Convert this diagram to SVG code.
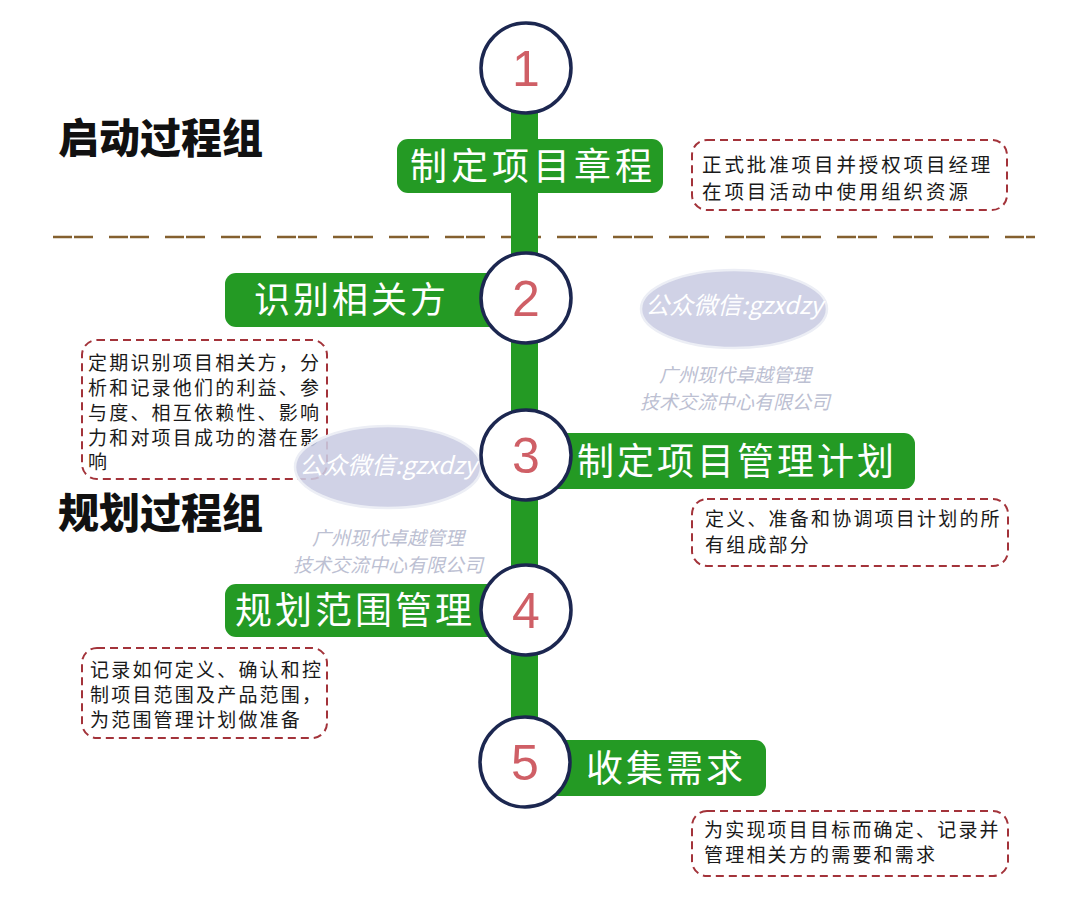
<svg xmlns="http://www.w3.org/2000/svg" width="1080" height="906" viewBox="0 0 1080 906">
<style>
.lbl{fill:#249a24}
.lt{fill:#ffffff;font-family:"Noto Sans CJK SC",sans-serif;font-size:36px}
.num{fill:#cf5f66;font-family:"Liberation Sans",Arial,sans-serif;font-size:50px;text-anchor:middle}
.circ{fill:#ffffff;stroke:#1c2750;stroke-width:3.5}
.box{fill:#ffffff;stroke:#a3333a;stroke-width:2;stroke-dasharray:8 5}
.bt{fill:#1a1a1a;font-family:"Noto Sans CJK SC",sans-serif;font-size:19px;letter-spacing:2.2px}
.head{fill:#111111;font-family:"Noto Sans CJK SC",sans-serif;font-size:41px;font-weight:900}
.wmE{fill:#c9cce2;fill-opacity:0.88;stroke:#eceef5;stroke-width:2.5}
.wmT{fill:#ffffff;font-family:"Noto Sans CJK SC","Liberation Sans",sans-serif;font-size:24px;font-style:italic;text-anchor:middle}
.wmS{fill:#bcc0d2;font-family:"Noto Sans CJK SC",sans-serif;font-size:19px;font-style:italic;text-anchor:middle}
</style>
<rect width="1080" height="906" fill="#ffffff"/>

<g id="headings">
<text class="head" x="58" y="153">启动过程组</text>
<text class="head" x="58" y="528">规划过程组</text>
</g>

<g id="separator">
<line x1="53" y1="237" x2="1035" y2="237" stroke="#84602f" stroke-width="2.5" stroke-dasharray="19 2 19 16"/>
</g>

<g id="desc1">
<rect class="box" x="692" y="140" width="315" height="70" rx="15"/>
<text class="bt" x="702" y="172" style="font-size:19.5px;letter-spacing:2.9px">正式批准项目并授权项目经理</text>
<text class="bt" x="702" y="199" style="font-size:19.5px;letter-spacing:2.9px">在项目活动中使用组织资源</text>
</g>

<g id="desc2">
<rect class="box" x="82" y="340" width="245" height="139" rx="15"/>
<text class="bt" x="88" y="370">定期识别项目相关方，分</text>
<text class="bt" x="88" y="395">析和记录他们的利益、参</text>
<text class="bt" x="88" y="420">与度、相互依赖性、影响</text>
<text class="bt" x="88" y="445">力和对项目成功的潜在影</text>
<text class="bt" x="88" y="469">响</text>
</g>

<g id="desc3">
<rect class="box" x="692" y="499" width="316" height="67" rx="15"/>
<text class="bt" x="705" y="526">定义、准备和协调项目计划的所</text>
<text class="bt" x="705" y="552">有组成部分</text>
</g>

<g id="desc4">
<rect class="box" x="82" y="648" width="245" height="90" rx="15"/>
<text class="bt" x="90" y="677">记录如何定义、确认和控</text>
<text class="bt" x="90" y="702">制项目范围及产品范围，</text>
<text class="bt" x="90" y="727">为范围管理计划做准备</text>
</g>

<g id="desc5">
<rect class="box" x="692" y="811" width="316" height="65" rx="15"/>
<text class="bt" x="704" y="837">为实现项目目标而确定、记录并</text>
<text class="bt" x="704" y="862">管理相关方的需要和需求</text>
</g>

<g id="watermarks">
<ellipse class="wmE" cx="734" cy="309" rx="93" ry="39"/>
<text class="wmT" x="734" y="314">公众微信:gzxdzy</text>
<text class="wmS" x="735" y="382">广州现代卓越管理</text>
<text class="wmS" x="735" y="409">技术交流中心有限公司</text>
<ellipse class="wmE" cx="388" cy="467" rx="93" ry="41"/>
<text class="wmT" x="388" y="474">公众微信:gzxdzy</text>
<text class="wmS" x="388" y="545">广州现代卓越管理</text>
<text class="wmS" x="388" y="572">技术交流中心有限公司</text>
</g>

<g id="connectors">
<rect x="511" y="68" width="27" height="694" fill="#249a24"/>
</g>

<g id="step1">
<rect class="lbl" x="397" y="139" width="266" height="54" rx="11"/>
<text class="lt" x="410" y="180" style="font-size:37px;letter-spacing:4px">制定项目章程</text>
<circle class="circ" cx="526" cy="68" r="45"/>
<text class="num" x="526" y="86">1</text>
</g>

<g id="step2">
<rect class="lbl" x="225" y="273" width="290" height="54" rx="11"/>
<text class="lt" x="254" y="313" style="letter-spacing:3px">识别相关方</text>
<circle class="circ" cx="526" cy="298" r="45"/>
<text class="num" x="526" y="316">2</text>
</g>

<g id="step3">
<rect class="lbl" x="530" y="433" width="385" height="56" rx="11"/>
<text class="lt" x="577" y="475" style="font-size:37px;letter-spacing:3px">制定项目管理计划</text>
<circle class="circ" cx="526" cy="455" r="45"/>
<text class="num" x="526" y="473">3</text>
</g>

<g id="step4">
<rect class="lbl" x="225" y="584" width="290" height="53" rx="11"/>
<text class="lt" x="235" y="624" style="font-size:37px;letter-spacing:3px">规划范围管理</text>
<circle class="circ" cx="526" cy="610" r="45"/>
<text class="num" x="526" y="628">4</text>
</g>

<g id="step5">
<rect class="lbl" x="530" y="740" width="236" height="56" rx="11"/>
<text class="lt" x="586" y="782" style="font-size:37px;letter-spacing:3px">收集需求</text>
<circle class="circ" cx="525" cy="762" r="45"/>
<text class="num" x="525" y="780">5</text>
</g>
</svg>
